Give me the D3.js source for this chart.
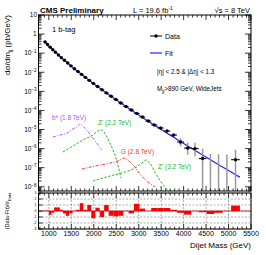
<!DOCTYPE html>
<html><head><meta charset="utf-8">
<script src="https://cdn.jsdelivr.net/npm/d3@7"></script>
<style>body{margin:0;background:#fff}svg{display:block;font-family:"Liberation Sans",Arial,sans-serif}</style>
</head><body>
<script>
// ---- data ----
const binEdges = [890,944,1000,1058,1118,1181,1246,1313,1383,1455,1530,1607,1687,1770,1856,1945,2037,2132,2231,2332,2438,2546,2659,2775,2895,3019,3147,3279,3416,3558,3704,3854,4010,4171,4337,4509,4686,4869,5058,5253];
const dataVals = [0.385,0.283,0.207,0.152,0.111,0.0804,0.0582,0.0422,0.0303,0.0216,0.0154,0.0110,0.00771,0.00541,0.00376,0.00260,0.00179,0.00122,8.26e-4,5.56e-4,3.71e-4,2.45e-4,1.61e-4,1.05e-4,7.0e-5,4.51e-5,2.78e-5,1.72e-5,1.20e-5,8.32e-6,5.14e-6,2.21e-6,1.07e-6,1.0e-6,3.0e-7,0,0,0,2.62e-7];
const dataErrHi = [0,0,0,0,0,0,0,0,0,0,0,0,0,0,0,0,0,0,0,0,0,0,0,0,0,0,0,0,0,0,0,1.3e-6,1.0e-6,1.0e-6,6.9e-7,5.2e-7,5.0e-7,4.9e-7,6.0e-7];
const dataErrLo = [0,0,0,0,0,0,0,0,0,0,0,0,0,0,0,0,0,0,0,0,0,0,0,0,0,0,0,0,0,0,0,0.9e-6,0.6e-6,0.6e-6,3.0e-7,0,0,0,2.62e-7];
const fitMass = [890,917,972,1029,1088,1150,1214,1280,1348,1419,1493,1569,1647,1729,1813,1901,1991,2085,2182,2282,2385,2492,2603,2717,2835,2957,3083,3213,3348,3487,3631,3779,3932,4091,4254,4423,4598,4778,4964,5156,5253];
const fitVals = [0.44,0.385,0.283,0.207,0.152,0.111,0.0804,0.0582,0.0422,0.0303,0.0216,0.0154,0.0110,0.00771,0.00541,0.00376,0.00260,0.00179,0.00122,8.26e-4,5.56e-4,3.71e-4,2.45e-4,1.61e-4,1.05e-4,6.75e-5,4.31e-5,2.72e-5,1.70e-5,1.05e-5,6.41e-6,3.88e-6,2.32e-6,1.36e-6,7.96e-7,4.57e-7,2.58e-7,1.44e-7,7.93e-8,4.30e-8,3.2e-8];
const pulls = [0.05,0.05,-0.65,-0.3,0.6,0.6,0.2,-0.4,-0.8,-0.4,0,0.2,1.3,0.2,1.0,-1.2,0.55,-1.0,1.0,-0.8,-0.9,-0.8,0,-0.4,1.2,0.4,0,0.5,0.5,0.5,0.2,-0.3,-0.6,0,-0.2,-0.5,-0.3,0,0.9];

const bstarMass = [1089,1245,1401,1535,1646,1690,1780,1913,2047,2180];
const bstarVals = [4.0e-6,5.1e-6,6.5e-6,1.06e-5,1.52e-5,1.94e-5,1.35e-5,5.8e-6,2.2e-6,8.4e-7];
const zp22Mass = [1312,1535,1757,1980,2091,2180,2269,2359,2448,2537,2604];
const zp22Vals = [6.6e-7,1.36e-6,2.81e-6,5.14e-6,8.3e-6,9.4e-6,5.1e-6,1.95e-6,6.6e-7,1.38e-7,2.9e-8];
const g28Mass = [1735,2024,2359,2581,2670,2759,2893,3027,3205,3361];
const g28Vals = [8.5e-8,1.22e-7,1.75e-7,2.5e-7,3.2e-7,2.5e-7,1.22e-7,4.7e-8,1.8e-8,9.8e-9];
const zp32Mass = [1980,2359,2693,2915,3071,3160,3249,3361,3472,3584,3695];
const zp32Vals = [2.0e-8,3.65e-8,5.9e-8,9.5e-8,1.75e-7,2.5e-7,1.75e-7,5.9e-8,2.2e-8,9.8e-9,4.7e-9];

const xTicks = [1000,1500,2000,2500,3000,3500,4000,4500,5000,5500];
const yDecades = [-8,-7,-6,-5,-4,-3,-2,-1,0,1];
const pullTicks = [-3,-2,-1,0,1,2,3];

// ---- layout ----
const W=266,H=255;
const L=38.5,R=251,T=15,MB=191,RT=193,RB=229;
const svg=d3.select("body").append("svg").attr("width",W).attr("height",H);
const x=d3.scaleLinear().domain([770,5500]).range([L,R]);
const y=d3.scaleLog().domain([6e-9,10]).range([MB,T]);
const yr=d3.scaleLinear().domain([-3,3]).range([RB,RT]);
const mid=i=>(binEdges[i]+binEdges[i+1])/2;

const defs=svg.append("defs");
defs.append("clipPath").attr("id","cm").append("rect").attr("x",L).attr("y",T).attr("width",R-L).attr("height",MB-T);
defs.append("clipPath").attr("id","cr").append("rect").attr("x",L).attr("y",RT).attr("width",R-L).attr("height",RB-RT);

// signal curves
const line=d3.line().x(d=>x(d[0])).y(d=>y(d[1])).curve(d3.curveMonotoneX);
const gm=svg.append("g").attr("clip-path","url(#cm)");
function sig(ms,vs,col,dash){gm.append("path").datum(ms.map((m,i)=>[m,vs[i]])).attr("d",line).attr("fill","none").attr("stroke",col).attr("stroke-width",1).attr("stroke-dasharray",dash);}
sig(bstarMass,bstarVals,"#b050ff","3,1.5,1,1.5");
sig(zp22Mass,zp22Vals,"#22bb22","2.5,1.5");
sig(g28Mass,g28Vals,"#ff3030","3,1.5,1,1.5");
sig(zp32Mass,zp32Vals,"#22bb22","2.5,1.5");

// fit
gm.append("path").datum(fitMass.map((m,i)=>[m,fitVals[i]])).attr("d",d3.line().x(d=>x(d[0])).y(d=>y(d[1])).curve(d3.curveMonotoneX)).attr("fill","none").attr("stroke","#2020ff").attr("stroke-width",1.2);

// data error bars
dataVals.forEach((v,i)=>{
  const cx=x(mid(i));
  if(dataErrHi[i]>0){
    const top=y(v+dataErrHi[i]);
    const bot=(v-dataErrLo[i])>6e-9? y(v-dataErrLo[i]) : MB;
    gm.append("line").attr("x1",cx).attr("x2",cx).attr("y1",top).attr("y2",bot).attr("stroke","#999").attr("stroke-width",1.5);
  }
});
dataVals.forEach((v,i)=>{
  if(v<=0) return;
  const cx=x(mid(i)),cy=y(v);
  gm.append("line").attr("x1",x(binEdges[i])).attr("x2",x(binEdges[i+1])).attr("y1",cy).attr("y2",cy).attr("stroke","#000").attr("stroke-width",1);
  gm.append("circle").attr("cx",cx).attr("cy",cy).attr("r",1.7).attr("fill","#000");
});

// main axes
function logMinors(){const a=[];for(let d=-9;d<=0;d++)for(let k=2;k<=9;k++){const v=k*Math.pow(10,d);if(v>=6e-9&&v<=10)a.push(v);}return a;}
const ax=svg.append("g").attr("stroke","#000").attr("stroke-width",0.8);
yDecades.forEach(d=>{const yy=y(Math.pow(10,d));ax.append("line").attr("x1",L).attr("x2",L+6).attr("y1",yy).attr("y2",yy);ax.append("line").attr("x1",R).attr("x2",R-6).attr("y1",yy).attr("y2",yy);});
logMinors().forEach(v=>{const yy=y(v);ax.append("line").attr("x1",L).attr("x2",L+3).attr("y1",yy).attr("y2",yy);ax.append("line").attr("x1",R).attr("x2",R-3).attr("y1",yy).attr("y2",yy);});
const xMinor=d3.range(800,5501,100);
xMinor.forEach(m=>{const xx=x(m);const big=m%500===0;const len=big?5:2.5;
  ax.append("line").attr("x1",xx).attr("x2",xx).attr("y1",T).attr("y2",T+len);
  ax.append("line").attr("x1",xx).attr("x2",xx).attr("y1",MB).attr("y2",MB-len);
  ax.append("line").attr("x1",xx).attr("x2",xx).attr("y1",RB).attr("y2",RB-len);
  ax.append("line").attr("x1",xx).attr("x2",xx).attr("y1",RT).attr("y2",RT+len);
});
svg.append("rect").attr("x",L).attr("y",T).attr("width",R-L).attr("height",MB-T).attr("fill","none").attr("stroke","#000").attr("stroke-width",1);

// y tick labels
const yl=svg.append("g").attr("font-size",6.5).attr("fill","#000").attr("text-anchor","end");
yDecades.forEach(d=>{const yy=y(Math.pow(10,d))+2.3;
  const t=yl.append("text").attr("x",L-2).attr("y",yy);
  if(d===0) t.text("1");
  else if(d===1) {t.attr("x",L-1.5).text("10");}
  else {t.text("10");t.append("tspan").attr("dy",-2.5).attr("font-size",4.5).text(String(d).replace("-","\u2212"));}
});

// ratio panel
const gr=svg.append("g");
pullTicks.forEach(p=>{gr.append("line").attr("x1",L).attr("x2",R).attr("y1",yr(p)).attr("y2",yr(p)).attr("stroke","#555").attr("stroke-width",0.5).attr("stroke-dasharray","2,1.5");});
xTicks.forEach(m=>{gr.append("line").attr("x1",x(m)).attr("x2",x(m)).attr("y1",RT).attr("y2",RB).attr("stroke","#555").attr("stroke-width",0.5).attr("stroke-dasharray","2,1.5");});
const grc=gr.append("g").attr("clip-path","url(#cr)");
pulls.forEach((p,i)=>{grc.append("rect").attr("x",x(binEdges[i])).attr("width",x(binEdges[i+1])-x(binEdges[i])).attr("y",Math.min(yr(p),yr(0))).attr("height",Math.abs(yr(p)-yr(0))).attr("fill","#ff0000");});
grc.append("line").attr("x1",L).attr("x2",R).attr("y1",yr(0)).attr("y2",yr(0)).attr("stroke","#c00").attr("stroke-width",0.8);
pullTicks.forEach(p=>{gr.append("line").attr("x1",L).attr("x2",L+4).attr("y1",yr(p)).attr("y2",yr(p)).attr("stroke","#000").attr("stroke-width",0.8);
  gr.append("text").attr("x",L-2).attr("y",yr(p)+1.3).attr("font-size",3.5).attr("text-anchor","end").text(p);});
svg.append("rect").attr("x",L).attr("y",RT).attr("width",R-L).attr("height",RB-RT).attr("fill","none").attr("stroke","#000").attr("stroke-width",1);

// x tick labels
const xl=svg.append("g").attr("font-size",7).attr("text-anchor","middle").attr("fill","#000");
xTicks.forEach(m=>xl.append("text").attr("x",x(m)).attr("y",RB+6.5).text(m));

// titles
svg.append("text").attr("x",R).attr("y",248).attr("text-anchor","end").attr("font-size",8).text("Dijet Mass (GeV)");
const yt=svg.append("text").attr("transform","translate(10,15) rotate(-90)").attr("text-anchor","end").attr("font-size",8);
yt.append("tspan").text("d\u03c3/dm");yt.append("tspan").attr("dy",2).attr("font-size",5.5).text("jj");yt.append("tspan").attr("dy",-2).text(" (pb/GeV)");
const rt=svg.append("text").attr("transform","translate(9,211) rotate(-90)").attr("text-anchor","middle").attr("font-size",5.5);
rt.append("tspan").text("(Data-Fit)/\u03c3");rt.append("tspan").attr("dy",1.5).attr("font-size",4).text("Data");

// header
svg.append("text").attr("x",40).attr("y",13).attr("font-size",8).attr("font-weight","bold").text("CMS Preliminary");
const lum=svg.append("text").attr("x",133).attr("y",13).attr("font-size",7.5);
lum.append("tspan").text("L = 19.6 fb");lum.append("tspan").attr("dy",-3).attr("font-size",5).text("-1");
svg.append("text").attr("x",250).attr("y",13).attr("text-anchor","end").attr("font-size",7.5).text("\u221as = 8 TeV");
svg.append("text").attr("x",52).attr("y",32).attr("font-size",7.5).text("1 b-tag");

// legend
const lg=svg.append("g");
lg.append("line").attr("x1",150).attr("x2",162).attr("y1",36).attr("y2",36).attr("stroke","#000").attr("stroke-width",1);
lg.append("circle").attr("cx",156).attr("cy",36).attr("r",1.7).attr("fill","#000");
lg.append("text").attr("x",165).attr("y",38.5).attr("font-size",7).text("Data");
lg.append("line").attr("x1",150).attr("x2",162).attr("y1",53).attr("y2",53).attr("stroke","#2020ff").attr("stroke-width",1.2);
lg.append("text").attr("x",165).attr("y",55.5).attr("font-size",7).text("Fit");
lg.append("text").attr("x",157).attr("y",74).attr("font-size",6.3).text("|\u03b7| < 2.5 & |\u0394\u03b7| < 1.3");
const mj=lg.append("text").attr("x",157).attr("y",91).attr("font-size",6.3);
mj.append("tspan").text("M");mj.append("tspan").attr("dy",1.5).attr("font-size",4.5).text("jj");mj.append("tspan").attr("dy",-1.5).text(">890 GeV, WideJets");

// signal labels
svg.append("text").attr("x",52).attr("y",120).attr("font-size",6.5).attr("fill","#b050ff").text("b* (1.8 TeV)");
svg.append("text").attr("x",98).attr("y",125).attr("font-size",6.5).attr("fill","#22bb22").text("Z' (2.2 TeV)");
svg.append("text").attr("x",121).attr("y",154).attr("font-size",6.5).attr("fill","#ff3030").text("G (2.8 TeV)");
svg.append("text").attr("x",158).attr("y",169).attr("font-size",6.5).attr("fill","#22bb22").text("Z' (3.2 TeV)");
</script>
</body></html>
